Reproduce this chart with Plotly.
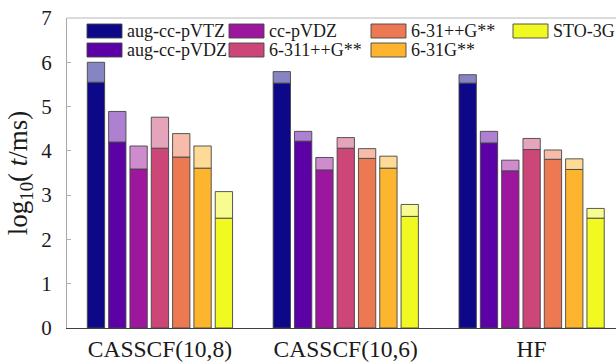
import plotly.graph_objects as go

# ---------------- data ----------------
groups = ["CASSCF(10,8)", "CASSCF(10,6)", "HF"]
basis_sets = ["aug-cc-pVTZ", "aug-cc-pVDZ", "cc-pVDZ", "6-311++G**",
              "6-31++G**", "6-31G**", "STO-3G"]
colors = ["#0d0887", "#5c01a6", "#9c179e", "#cc4778",
          "#ed7953", "#fdb42f", "#f0f921"]

# solid (lower) part of each bar, log10(t/ms)
aug_cc_pVTZ_low = [5.55, 5.53, 5.53]
aug_cc_pVDZ_low = [4.20, 4.22, 4.18]
cc_pVDZ_low = [3.59, 3.57, 3.55]
g6_311ppGss_low = [4.06, 4.06, 4.03]
g6_31ppGss_low = [3.86, 3.83, 3.81]
g6_31Gss_low = [3.61, 3.61, 3.58]
sto_3g_low = [2.48, 2.52, 2.48]

# full height (top of the faded part), log10(t/ms)
aug_cc_pVTZ_top = [6.00, 5.79, 5.72]
aug_cc_pVDZ_top = [4.89, 4.44, 4.44]
cc_pVDZ_top = [4.11, 3.85, 3.79]
g6_311ppGss_top = [4.76, 4.30, 4.28]
g6_31ppGss_top = [4.39, 4.05, 4.02]
g6_31Gss_top = [4.11, 3.88, 3.82]
sto_3g_top = [3.08, 2.79, 2.70]

y_ticks = [0, 1, 2, 3, 4, 5, 6, 7]

low_series = [aug_cc_pVTZ_low, aug_cc_pVDZ_low, cc_pVDZ_low, g6_311ppGss_low,
              g6_31ppGss_low, g6_31Gss_low, sto_3g_low]
top_series = [aug_cc_pVTZ_top, aug_cc_pVDZ_top, cc_pVDZ_top, g6_311ppGss_top,
              g6_31ppGss_top, g6_31Gss_top, sto_3g_top]

FONT = "Liberation Serif"
TXT = "#1a1a1a"
EDGE = "rgba(70,70,70,0.9)"


def light(hex_color, a=0.5):
    h = hex_color.lstrip("#")
    r, g, b = (int(h[i:i + 2], 16) for i in (0, 2, 4))
    return f"rgb({round(r * a + 255 * (1 - a))},{round(g * a + 255 * (1 - a))},{round(b * a + 255 * (1 - a))})"


fig = go.Figure()
for i, name in enumerate(basis_sets):
    low = low_series[i]
    top = top_series[i]
    fig.add_trace(go.Bar(
        x=groups, y=low, name=name, offsetgroup=str(i),
        marker=dict(color=colors[i], line=dict(color=EDGE, width=1)),
        showlegend=False,
    ))
    fig.add_trace(go.Bar(
        x=groups, y=[t - l for t, l in zip(top, low)], base=low,
        name=name + " (total)", offsetgroup=str(i),
        marker=dict(color=light(colors[i]), line=dict(color=EDGE, width=1)),
        showlegend=False,
    ))

# ---------------- manual legend (MATLAB-like wide swatches) ----------------
W, H = 616, 362
L, R, T, B = 67, 0, 18, 34
pw, ph = W - L - R, H - T - B


def px_x(px):
    return (px - L) / pw


def px_y(py):
    return (H - B - py) / ph


col_left = [87, 229, 371, 513]
row_top = [24, 43]
sw, sh = 35, 14
shapes = []
annotations = []
for i, name in enumerate(basis_sets):
    c, r = divmod(i, 2)
    x0 = col_left[c]
    y0 = row_top[r]
    shapes.append(dict(type="rect", xref="paper", yref="paper",
                       x0=px_x(x0), x1=px_x(x0 + sw),
                       y0=px_y(y0 + sh), y1=px_y(y0),
                       fillcolor=colors[i], line=dict(color=EDGE, width=1)))
    annotations.append(dict(xref="paper", yref="paper",
                            x=px_x(x0 + sw + 3), y=px_y(y0 + sh / 2),
                            xanchor="left", yanchor="middle", showarrow=False,
                            text=name, font=dict(family=FONT, size=18, color=TXT)))

# top frame line
shapes.append(dict(type="line", xref="paper", yref="paper", x0=0, x1=1, y0=1, y1=1,
                   line=dict(color="#b8b8b8", width=1)))

fig.update_layout(
    width=W, height=H,
    margin=dict(l=L, r=R, t=T, b=B),
    paper_bgcolor="white", plot_bgcolor="white",
    barmode="group", bargap=0.197, bargroupgap=0.188,
    font=dict(family=FONT, color=TXT),
    shapes=shapes, annotations=annotations,
    showlegend=False,
)
fig.update_xaxes(
    range=[-0.5, 2.454], showline=True, linecolor="#404040", linewidth=1,
    ticks="", showgrid=False, tickfont=dict(size=23.5, family=FONT, color=TXT),
)
fig.update_yaxes(
    range=[0, 7], tickvals=y_ticks, showline=True, linecolor="#a8a8a8", linewidth=1,
    ticks="inside", ticklen=4, tickcolor="#b0b0b0", showgrid=False, zeroline=False,
    tickfont=dict(size=21, family=FONT, color=TXT), ticklabelstandoff=10,
    title=dict(text="log<sub>10</sub>( <i>t</i>/ms)", font=dict(size=27, family=FONT, color=TXT),
               standoff=5),
)

fig.write_html("out.html")
